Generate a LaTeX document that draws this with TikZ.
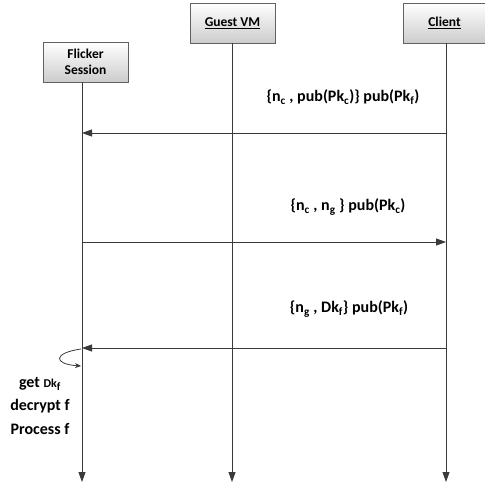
\documentclass[tikz,border=0pt]{standalone}
\usepackage{fontspec}
\setmainfont{Carlito}
\usetikzlibrary{arrows.meta}
\definecolor{ln}{HTML}{3A3A3A}
\tikzset{
  actor/.style={draw=ln!80, line width=0.6pt, top color=white, bottom color=black!20, minimum width=85pt, minimum height=40pt, inner sep=1pt, align=center, font=\bfseries\fontsize{13.5}{16}\selectfont},
  life/.style={draw=ln, line width=0.8pt, -{Triangle[length=10pt,width=7pt]}},
  msg/.style={draw=ln, line width=0.8pt, -{Triangle[length=10pt,width=7pt]}},
  lbl/.style={font=\bfseries\fontsize{16}{19}\selectfont, inner sep=0pt},
}
\begin{document}
\begin{tikzpicture}[x=1pt,y=-1pt]
\useasboundingbox (0,0) rectangle (484,486);
\node[actor] (fs) at (85.5,62) {Flicker\\Session};
\node[actor] (gv) at (232.5,23) {\underline{Guest VM}};
\node[actor, minimum width=83pt] (cl) at (444.5,23) {\underline{Client}};
\coordinate (fsE) at (82,482);
\coordinate (gvE) at (232,482);
\coordinate (clE) at (446,482);
\draw[life] (fs.south -| fsE) -- (fsE);
\draw[life] (gv.south -| gvE) -- (gvE);
\draw[life] (cl.south -| clE) -- (clE);
% messages
\coordinate (c1) at (446,133); \coordinate (f1) at (82,133);
\coordinate (f2) at (82,242);  \coordinate (c2) at (446,242);
\coordinate (c3) at (446,348); \coordinate (f3) at (82,348);
\draw[msg] (c1) -- (f1);
\draw[msg] (f2) -- (c2);
\draw[msg] (c3) -- (f3);
\node[lbl] (l1) at (343,97) {\{n\textsubscript{c} , pub(Pk\textsubscript{c})\} pub(Pk\textsubscript{f})};
\node[lbl] (l2) at (348,207) {\{n\textsubscript{c} , n\textsubscript{g} \} pub(Pk\textsubscript{c})};
\node[lbl] (l3) at (349,309) {\{n\textsubscript{g} , Dk\textsubscript{f}\} pub(Pk\textsubscript{f})};
% self loop
\coordinate (s1) at (81,349);
\coordinate (s2) at (81,366);
\draw[draw=ln, line width=0.8pt, -{Stealth[length=6pt,width=5pt]}] (s1) .. controls (53,353) and (53,364) .. (s2);
\node[lbl, align=center, font=\bfseries\fontsize{16}{23.5}\selectfont] (proc) at (40,406) {get {\fontsize{12}{14}\selectfont Dk}\textsubscript{f}\\decrypt f\\Process f};
\end{tikzpicture}
\end{document}
